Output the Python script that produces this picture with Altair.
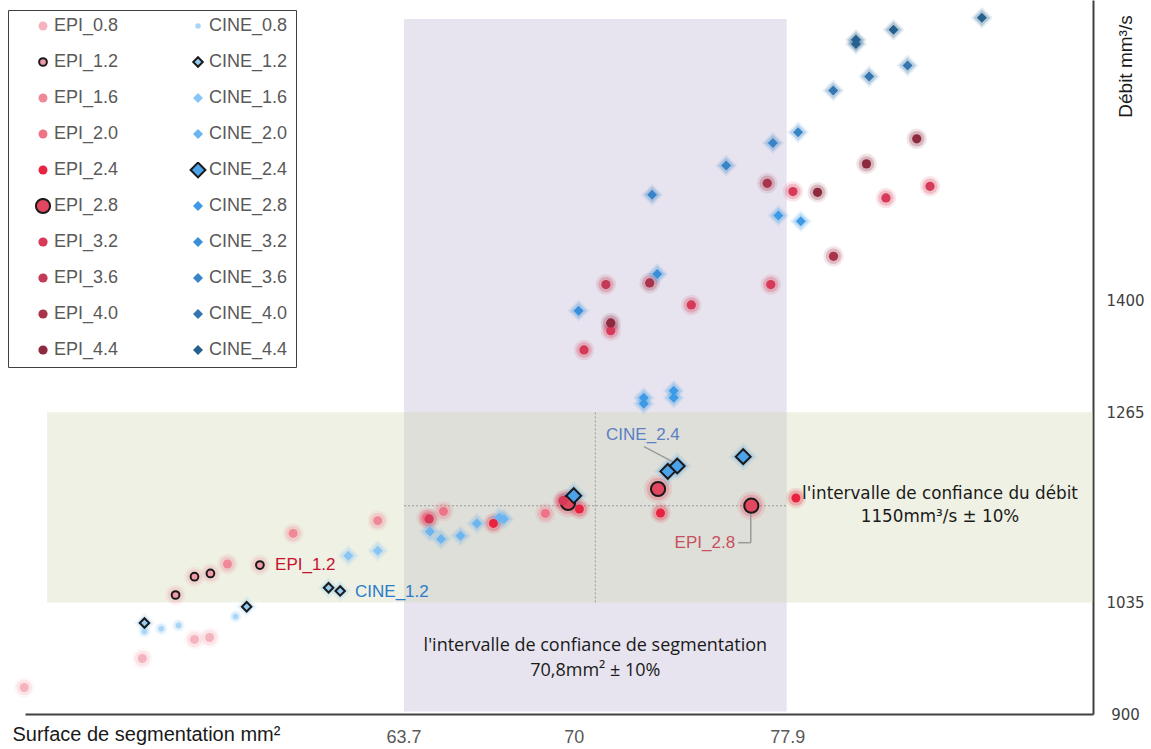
import altair as alt
import pandas as pd

# ---------------- data ----------------
EPI_08_x = [49.67, 54.04, 55.97, 56.53]
EPI_08_y = [932.1, 967.2, 990.2, 992.6]
EPI_12_x = [55.27, 55.97, 56.56, 58.39]
EPI_12_y = [1044.0, 1066.1, 1070.1, 1080.3]
EPI_16_x = [57.19, 59.62, 62.75]
EPI_16_y = [1081.5, 1118.5, 1133.9]
EPI_20_x = [64.55, 65.18, 68.95]
EPI_20_y = [1137.5, 1145.2, 1142.7]
EPI_24_x = [67.03, 70.21, 73.21, 78.22]
EPI_24_y = [1130.6, 1148.1, 1143.2, 1161.4]
EPI_28_x = [69.79, 73.12, 76.57]
EPI_28_y = [1155.3, 1172.3, 1152.1]
EPI_32_x = [64.65, 69.6, 70.38, 71.37, 74.35, 77.29, 78.11, 81.55, 83.18]
EPI_32_y = [1136.0, 1158.1, 1340.5, 1363.9, 1395.0, 1419.6, 1532.2, 1524.5, 1538.6]
EPI_36_x = [71.19]
EPI_36_y = [1419.6]
EPI_40_x = [72.81, 77.16, 79.61]
EPI_40_y = [1421.6, 1542.2, 1453.8]
EPI_44_x = [71.37, 79.02, 80.83, 82.69]
EPI_44_y = [1373.2, 1531.3, 1565.7, 1596.0]

CINE_08_x = [54.12, 54.74, 55.38, 57.49]
CINE_08_y = [999.9, 1003.2, 1007.2, 1018.1]
CINE_12_x = [54.12, 57.90, 60.93, 61.36]
CINE_12_y = [1010.1, 1029.8, 1052.8, 1048.9]
CINE_16_x = [61.66, 62.75]
CINE_16_y = [1091.5, 1097.6]
CINE_20_x = [64.68, 65.09, 65.81, 66.42, 67.25, 67.42]
CINE_20_y = [1120.9, 1111.7, 1115.7, 1130.6, 1137.9, 1136.0]
CINE_24_x = [70.0, 73.48, 73.83, 76.27]
CINE_24_y = [1164.2, 1193.6, 1200.1, 1211.4]
CINE_28_x = [72.59, 72.59, 73.70, 73.70, 77.57, 78.40]
CINE_28_y = [1275.5, 1282.8, 1291.3, 1282.8, 1503.1, 1496.2]
CINE_32_x = [70.18, 73.09]
CINE_32_y = [1388.1, 1432.5]
CINE_36_x = [72.90, 75.64, 77.37, 78.30]
CINE_36_y = [1528.2, 1563.6, 1591.1, 1603.9]
CINE_40_x = [79.60, 80.93, 82.35]
CINE_40_y = [1654.4, 1671.4, 1684.7]
CINE_44_x = [80.44, 80.44, 81.83, 85.10]
CINE_44_y = [1715.8, 1710.9, 1727.9, 1742.4]

EPI_NAMES = ["EPI_0.8", "EPI_1.2", "EPI_1.6", "EPI_2.0", "EPI_2.4",
             "EPI_2.8", "EPI_3.2", "EPI_3.6", "EPI_4.0", "EPI_4.4"]
CINE_NAMES = ["CINE_0.8", "CINE_1.2", "CINE_1.6", "CINE_2.0", "CINE_2.4",
              "CINE_2.8", "CINE_3.2", "CINE_3.6", "CINE_4.0", "CINE_4.4"]
EPI_XS = [EPI_08_x, EPI_12_x, EPI_16_x, EPI_20_x, EPI_24_x, EPI_28_x, EPI_32_x, EPI_36_x, EPI_40_x, EPI_44_x]
EPI_YS = [EPI_08_y, EPI_12_y, EPI_16_y, EPI_20_y, EPI_24_y, EPI_28_y, EPI_32_y, EPI_36_y, EPI_40_y, EPI_44_y]
CINE_XS = [CINE_08_x, CINE_12_x, CINE_16_x, CINE_20_x, CINE_24_x, CINE_28_x, CINE_32_x, CINE_36_x, CINE_40_x, CINE_44_x]
CINE_YS = [CINE_08_y, CINE_12_y, CINE_16_y, CINE_20_y, CINE_24_y, CINE_28_y, CINE_32_y, CINE_36_y, CINE_40_y, CINE_44_y]

X_TICKS = [63.7, 70, 77.9]
Y_TICKS = [900, 1035, 1265, 1400]

SEG_BAND_X = [63.72, 77.88]
SEG_BAND_Y = [903, 1741]
DEB_BAND_X = [50.52, 89.21]
DEB_BAND_Y = [1035, 1265]
CENTER_X = 70.8
CENTER_Y = 1152

LABEL_TEXT = ["EPI_1.2", "CINE_1.2", "CINE_2.4", "EPI_2.8"]
LABEL_X = [58.95, 61.91, 72.56, 75.97]
LABEL_Y = [1080.6, 1048.0, 1238.0, 1107.3]

LEADER_X = [72.60, 76.08, 76.55]
LEADER_X2 = [73.79, 76.55, 76.55]
LEADER_Y = [1223.5, 1107.3, 1107.3]
LEADER_Y2 = [1202.9, 1107.3, 1152.1]

SEG_TEXT = ["l'intervalle de confiance de segmentation", "70,8mm² ± 10%"]
SEG_TEXT_Y = [982.6, 952.3]
DEB_TEXT = ["l'intervalle de confiance du débit", "1150mm³/s ± 10%"]
DEB_TEXT_X = 83.55
DEB_TEXT_Y = [1166.6, 1138.7]

# ---------------- styles ----------------
EPI_COLORS = ["#f5b3be", "#f29aa8", "#f08898", "#ee7387", "#e8223f",
              "#e3465f", "#d63a58", "#c23a55", "#a8334a", "#8e2a40"]
CINE_COLORS = ["#a9d5f7", "#93ccf4", "#8ac6f5", "#6db5ef", "#4da3ea",
               "#3c9ae6", "#3a8fdb", "#3784c9", "#3476b0", "#25608f"]
EPI_SIZES = [80, 60, 80, 80, 80, 200, 85, 85, 85, 85]
CINE_SIZES = [30, 90, 100, 100, 220, 100, 100, 100, 100, 100]
OUTLINED = {"EPI_1.2", "EPI_2.8", "CINE_1.2", "CINE_2.4"}

rows = []
for names, xs_list, ys_list in [(EPI_NAMES, EPI_XS, EPI_YS), (CINE_NAMES, CINE_XS, CINE_YS)]:
    for name, xs, ys in zip(names, xs_list, ys_list):
        for xv, yv in zip(xs, ys):
            rows.append({"series": name, "x": xv, "y": yv})
df = pd.DataFrame(rows)

order = EPI_NAMES + CINE_NAMES   # legend fills column by column
col_map = dict(zip(EPI_NAMES + CINE_NAMES, EPI_COLORS + CINE_COLORS))
size_map = dict(zip(EPI_NAMES + CINE_NAMES, EPI_SIZES + CINE_SIZES))
fill_range = [col_map[s] for s in order]
stroke_range = ["#1a1a1a" if s in OUTLINED else "transparent" for s in order]
size_range = [size_map[s] for s in order]
shape_range = ["diamond" if (s.startswith("CINE") and s != "CINE_0.8") else "circle" for s in order]

xscale = alt.Scale(domain=[49.7, 89.21], nice=False, zero=False)
yscale = alt.Scale(domain=[900, 1764], nice=False, zero=False)

FONT = "Liberation Sans"

xaxis = alt.Axis(values=X_TICKS, format=".3~g", title="Surface de segmentation mm²",
                 titleAnchor="start", titleX=-13, titleY=20, titleBaseline="middle",
                 titleFont=FONT, titleFontSize=20, titleFontWeight="normal", titleColor="#1a1a1a",
                 labelFont=FONT, labelFontSize=18, labelColor="#595959", labelPadding=14,
                 ticks=False, grid=False, domainColor="#404040", domainWidth=2)
yaxis = alt.Axis(values=Y_TICKS, format="d", orient="right", title="Débit mm³/s",
                 titleAngle=270, titleX=32, titleY=66, titleAlign="center", titleBaseline="middle",
                 titleFont=FONT, titleFontSize=19, titleFontWeight="normal", titleColor="#1a1a1a",
                 labelFont="DejaVu Sans", labelFontSize=15, labelColor="#404040",
                 labelPadding=32, labelAlign="center", labelBaseline="middle",
                 ticks=False, grid=False, domainColor="#404040", domainWidth=2)

X = alt.X("x:Q", scale=xscale, axis=xaxis)
Y = alt.Y("y:Q", scale=yscale, axis=yaxis)

# ---------------- bands ----------------
seg_df = pd.DataFrame({"x": [SEG_BAND_X[0]], "x2": [SEG_BAND_X[1]], "y": [SEG_BAND_Y[0]], "y2": [SEG_BAND_Y[1]]})
deb_df = pd.DataFrame({"x": [DEB_BAND_X[0]], "x2": [DEB_BAND_X[1]], "y": [DEB_BAND_Y[0]], "y2": [DEB_BAND_Y[1]]})
seg_band = alt.Chart(seg_df).mark_rect(color="#e7e4ef").encode(x=X, x2="x2:Q", y=Y, y2="y2:Q")
deb_band = alt.Chart(deb_df).mark_rect(color="#ccd5ab", opacity=0.333).encode(x=X, x2="x2:Q", y=Y, y2="y2:Q")

cross_df = pd.DataFrame({
    "x": [CENTER_X, SEG_BAND_X[0]], "x2": [CENTER_X, SEG_BAND_X[1]],
    "y": [DEB_BAND_Y[0], CENTER_Y], "y2": [DEB_BAND_Y[1], CENTER_Y]})
cross = alt.Chart(cross_df).mark_rule(color="#9a9a9a", strokeDash=[2, 2], strokeWidth=1).encode(
    x=X, x2="x2:Q", y=Y, y2="y2:Q")

# ---------------- halos ----------------
# reversed domain so this (legend-less) scale is not merged with the point legend
halo_color = alt.Color("series:N", scale=alt.Scale(domain=order[::-1], range=fill_range[::-1]), legend=None)

def halo(filter_expr, shape, size, op):
    return alt.Chart(df).transform_filter(filter_expr).mark_point(
        filled=True, shape=shape, size=size, opacity=op, strokeWidth=0).encode(x=X, y=Y, color=halo_color)

EPI_REG = "indexof(datum.series,'EPI')===0 && datum.series!=='EPI_2.8'"
CINE_REG = "indexof(datum.series,'CINE')===0 && datum.series!=='CINE_0.8' && datum.series!=='CINE_2.4'"
halos = [
    halo(EPI_REG, "circle", 420, 0.12),
    halo(EPI_REG, "circle", 240, 0.25),
    halo("datum.series==='EPI_2.8'", "circle", 800, 0.12),
    halo("datum.series==='EPI_2.8'", "circle", 500, 0.25),
    halo("datum.series==='CINE_0.8'", "circle", 160, 0.15),
    halo("datum.series==='CINE_0.8'", "circle", 90, 0.3),
    halo(CINE_REG, "diamond", 480, 0.12),
    halo(CINE_REG, "diamond", 280, 0.25),
    halo("datum.series==='CINE_2.4'", "diamond", 800, 0.12),
    halo("datum.series==='CINE_2.4'", "diamond", 480, 0.25),
]

# ---------------- points with legend ----------------
NBSP = "\u00a0" * 10
leg = alt.Legend(title=None, orient="none", legendX=-17, legendY=10, columns=2,
                 columnPadding=52, rowPadding=18, clipHeight=16, padding=8,
                 strokeColor="#404040", fillColor="#ffffff",
                 labelFont=FONT, labelFontSize=18, labelColor="#595959",
                 symbolOffset=18, labelOffset=2, symbolStrokeWidth=2,
                 labelExpr="indexof(datum.label,'CINE')===0 ? datum.label + '" + NBSP + "' : datum.label")

core = alt.Chart(df).mark_point(filled=True, opacity=1, strokeWidth=2).encode(
    x=X, y=Y,
    fill=alt.Fill("series:N", scale=alt.Scale(domain=order, range=fill_range), legend=leg),
    stroke=alt.Stroke("series:N", scale=alt.Scale(domain=order, range=stroke_range), legend=leg),
    shape=alt.Shape("series:N", scale=alt.Scale(domain=order, range=shape_range), legend=leg),
    size=alt.Size("series:N", scale=alt.Scale(type="ordinal", domain=order, range=size_range), legend=leg),
)

# ---------------- annotations ----------------
lab_df = pd.DataFrame({"t": LABEL_TEXT, "x": LABEL_X, "y": LABEL_Y})

def label(txt, color, align):
    return alt.Chart(lab_df).transform_filter(alt.datum.t == txt).mark_text(
        font=FONT, fontSize=17, color=color, align=align, baseline="middle").encode(x=X, y=Y, text="t:N")

labels = [label("EPI_1.2", "#c8102e", "left"), label("CINE_1.2", "#2b7cc8", "left"),
          label("CINE_2.4", "#5b80c4", "center"), label("EPI_2.8", "#c85060", "right")]

lead_df = pd.DataFrame({"x": LEADER_X, "x2": LEADER_X2, "y": LEADER_Y, "y2": LEADER_Y2})
leaders = alt.Chart(lead_df).mark_rule(color="#9a9a9a", strokeWidth=1.5).encode(x=X, x2="x2:Q", y=Y, y2="y2:Q")

seg_t_df = pd.DataFrame({"t": SEG_TEXT, "x": [CENTER_X] * 2, "y": SEG_TEXT_Y})
seg_text = alt.Chart(seg_t_df).mark_text(font="Open Sans", fontSize=18, color="#1a1a1a",
                                         align="center", baseline="middle").encode(x=X, y=Y, text="t:N")
deb_t_df = pd.DataFrame({"t": DEB_TEXT, "x": [DEB_TEXT_X] * 2, "y": DEB_TEXT_Y})
deb_text = alt.Chart(deb_t_df).mark_text(font="DejaVu Sans", fontSize=16.8, color="#1a1a1a",
                                         align="center", baseline="middle").encode(x=X, y=Y, text="t:N")

chart = alt.layer(seg_band, deb_band, cross, *halos, leaders, core, *labels, seg_text, deb_text).properties(
    width=1068, height=714,
    padding={"left": 25, "top": 0, "right": 58, "bottom": 35},
    autosize=alt.AutoSizeParams(type="none"),
    background="#ffffff",
).configure_view(stroke=None)

chart.save("out.html", embed_options={"renderer": "svg", "actions": False})
